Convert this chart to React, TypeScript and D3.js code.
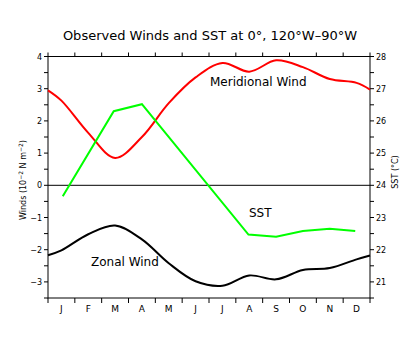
import React from "react";
import * as d3 from "d3";

// Month positions: 0 = start of Jan, 12 = end of Dec
const monthLabels = ["J", "F", "M", "A", "M", "J", "J", "A", "S", "O", "N", "D"];
const windTicks = [-3, -2, -1, 0, 1, 2, 3, 4];
const sstTicks = [21, 22, 23, 24, 25, 26, 27, 28];

const meridMonths = [0, 0.5, 1.5, 2.5, 3.5, 4.5, 5.5, 6.5, 7.5, 8.5, 9.5, 10.5, 11.5, 12];
const meridValues = [2.95, 2.63, 1.63, 0.85, 1.5, 2.55, 3.35, 3.8, 3.53, 3.88, 3.67, 3.3, 3.18, 2.97];

const zonalMonths = [0, 0.5, 1.5, 2.5, 3.5, 4.5, 5.5, 6.5, 7.5, 8.5, 9.5, 10.5, 11.5, 12];
const zonalValues = [-2.17, -2.02, -1.52, -1.25, -1.68, -2.42, -2.98, -3.12, -2.8, -2.92, -2.63, -2.57, -2.3, -2.18];

const sstMonths = [0.55, 2.45, 3.5, 7.47, 8.5, 9.5, 10.5, 11.45];
const sstValues = [23.66, 26.3, 26.52, 22.47, 22.4, 22.58, 22.65, 22.58];

const W = 410, H = 355;
const L = 48, R = 370, T = 56.5, B = 298;
const FONT = "DejaVu Sans, sans-serif";

export default function App() {
  const x = d3.scaleLinear().domain([0, 12]).range([L, R]);
  const yW = d3.scaleLinear().domain([-3.5, 4]).range([B, T]);
  const yS = d3.scaleLinear().domain([20.5, 28]).range([B, T]);

  const curve = d3.curveCatmullRom.alpha(0.5);
  const merid = d3.line<number>().x((_, i) => x(meridMonths[i])).y((v) => yW(v)).curve(curve)(meridValues) || "";
  const zonal = d3.line<number>().x((_, i) => x(zonalMonths[i])).y((v) => yW(v)).curve(curve)(zonalValues) || "";
  const sst = d3.line<number>().x((_, i) => x(sstMonths[i])).y((v) => yS(v))(sstValues) || "";

  const monthTicks = d3.range(0, 13);
  const halfW = d3.range(-3.5, 4.01, 0.5);
  const halfS = d3.range(20.5, 28.01, 0.5);

  return (
    <svg width={W} height={H} style={{ position: "absolute", left: 0, top: 0, background: "#fff" }} fontFamily={FONT}>
      <rect x={0} y={0} width={W} height={H} fill="#fff" />
      <text x={210} y={40} textAnchor="middle" fontSize={13} fill="#000">
        Observed Winds and SST at 0°, 120°W–90°W
      </text>
      {/* frame */}
      <rect x={L} y={T} width={R - L} height={B - T} fill="none" stroke="#000" strokeWidth={1} />
      {/* zero line */}
      <line x1={L} x2={R} y1={yW(0)} y2={yW(0)} stroke="#000" strokeWidth={1} />
      {/* month ticks */}
      {monthTicks.map((m) => (
        <g key={"mt" + m}>
          <line x1={x(m)} x2={x(m)} y1={T} y2={T - 4} stroke="#000" />
          <line x1={x(m)} x2={x(m)} y1={B} y2={B + 5} stroke="#000" />
        </g>
      ))}
      {monthLabels.map((lab, i) => (
        <text key={"ml" + i} x={x(i + 0.5)} y={B + 14} textAnchor="middle" fontSize={9} fill="#000">
          {lab}
        </text>
      ))}
      {/* left ticks */}
      {halfW.map((v) => (
        <line key={"lw" + v} x1={L - 4} x2={L} y1={yW(v)} y2={yW(v)} stroke="#000" />
      ))}
      {windTicks.map((v) => (
        <text key={"lt" + v} x={L - 6} y={yW(v) + 3} textAnchor="end" fontSize={8} fill="#000">
          {v < 0 ? "−" + Math.abs(v) : String(v)}
        </text>
      ))}
      {/* right ticks */}
      {halfS.map((v) => (
        <line key={"rs" + v} x1={R} x2={R + 4} y1={yS(v)} y2={yS(v)} stroke="#000" />
      ))}
      {sstTicks.map((v) => (
        <text key={"rt" + v} x={R + 6} y={yS(v) + 3} textAnchor="start" fontSize={8} fill="#000">
          {String(v)}
        </text>
      ))}
      {/* axis titles */}
      <text transform={`translate(26,180) rotate(-90)`} textAnchor="middle" fontSize={8} fill="#000">
        Winds (10<tspan dy={-3} fontSize={6}>−2</tspan><tspan dy={3}> N m</tspan><tspan dy={-3} fontSize={6}>−2</tspan><tspan dy={3}>)</tspan>
      </text>
      <text transform={`translate(398,172) rotate(-90)`} textAnchor="middle" fontSize={8} fill="#000">
        SST (°C)
      </text>
      {/* series */}
      <path d={merid} fill="none" stroke="#ff0000" strokeWidth={2} />
      <path d={sst} fill="none" stroke="#00ff00" strokeWidth={2} />
      <path d={zonal} fill="none" stroke="#000" strokeWidth={2} />
      {/* labels */}
      <text x={210} y={86} fontSize={12} fill="#000">Meridional Wind</text>
      <text x={249} y={217} fontSize={12} fill="#000">SST</text>
      <text x={91} y={266} fontSize={12} fill="#000">Zonal Wind</text>
    </svg>
  );
}
